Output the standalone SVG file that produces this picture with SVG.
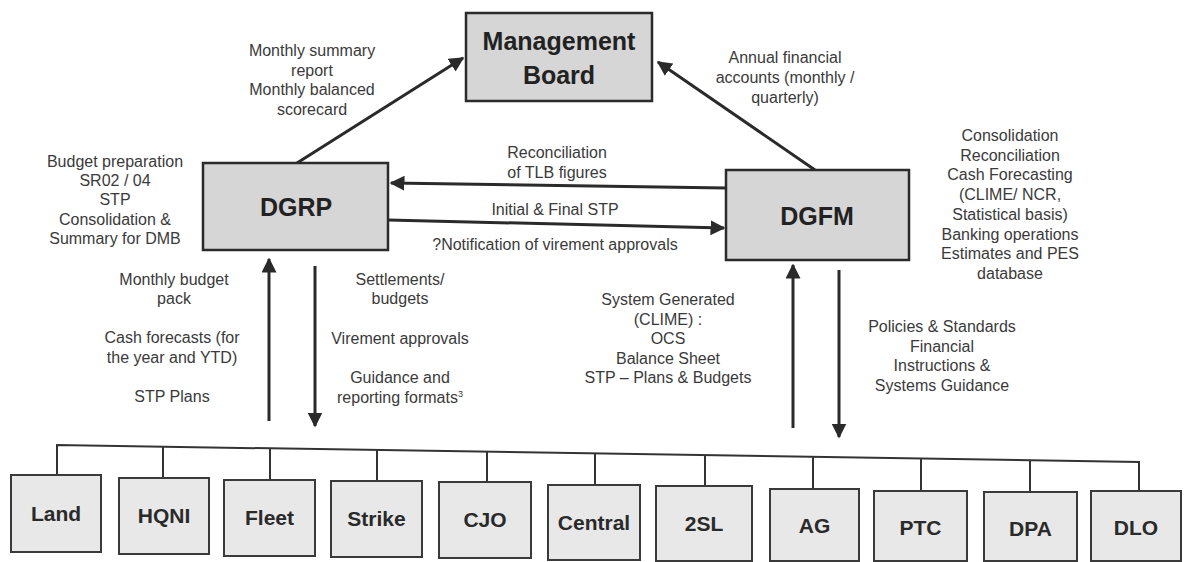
<svg xmlns="http://www.w3.org/2000/svg" width="1187" height="562" viewBox="0 0 1187 562">
<style>
.big{fill:#d6d6d6;stroke:#2b2b2b;stroke-width:2.5}
.small{fill:#e8e8e8;stroke:#3a3a3a;stroke-width:2}
.bt{font-family:"Liberation Sans",Arial,sans-serif;font-weight:bold;font-size:25px;fill:#222;text-anchor:middle}
.st{font-family:"Liberation Sans",Arial,sans-serif;font-weight:bold;font-size:21px;fill:#2a2a2a;text-anchor:middle}
.lb{font-family:"Liberation Sans",Arial,sans-serif;font-size:16px;fill:#3a3a3a;text-anchor:middle}
.ln{stroke:#2a2a2a;stroke-width:3;fill:none}
.bus{stroke:#333;stroke-width:2;fill:none}
</style>
<defs>
<marker id="ah" viewBox="0 0 10 10" refX="9" refY="5" markerWidth="5" markerHeight="5" orient="auto" markerUnits="strokeWidth">
<path d="M0,0 L10,5 L0,10 z" fill="#2a2a2a"/>
</marker>
</defs>

<g id="connectors">
<line class="ln" x1="297" y1="163" x2="463" y2="58" marker-end="url(#ah)"/>
<line class="ln" x1="815" y1="170" x2="658" y2="62" marker-end="url(#ah)"/>
<line class="ln" x1="726" y1="188" x2="391" y2="183" marker-end="url(#ah)"/>
<line class="ln" x1="388" y1="220" x2="724" y2="228" marker-end="url(#ah)"/>
<line class="ln" x1="269" y1="421" x2="269" y2="259" marker-end="url(#ah)"/>
<line class="ln" x1="315" y1="266" x2="315" y2="426" marker-end="url(#ah)"/>
<line class="ln" x1="793" y1="428" x2="793" y2="265" marker-end="url(#ah)"/>
<line class="ln" x1="839" y1="270" x2="839" y2="437" marker-end="url(#ah)"/>
<path class="bus" d="M57,475 V445 L1139,462 V491"/>
<path class="bus" d="M163,446.7 V478 M270,448.3 V480 M377,450 V481 M487,451.8 V482 M595,453.5 V485 M705,455.2 V486 M813,456.9 V489 M921,458.6 V491 M1030,460.3 V492"/>
</g>

<g id="labels">
<text class="lb" x="312" y="56">Monthly summary</text>
<text class="lb" x="312" y="75.5">report</text>
<text class="lb" x="312" y="95">Monthly balanced</text>
<text class="lb" x="312" y="114.5">scorecard</text>

<text class="lb" x="785" y="63">Annual financial</text>
<text class="lb" x="785" y="83">accounts (monthly /</text>
<text class="lb" x="785" y="103">quarterly)</text>

<text class="lb" x="115" y="167">Budget preparation</text>
<text class="lb" x="115" y="186">SR02 / 04</text>
<text class="lb" x="115" y="205">STP</text>
<text class="lb" x="115" y="225">Consolidation &amp;</text>
<text class="lb" x="115" y="244">Summary for DMB</text>

<text class="lb" x="557" y="158">Reconciliation</text>
<text class="lb" x="557" y="178">of TLB figures</text>
<text class="lb" x="555" y="215">Initial &amp; Final STP</text>
<text class="lb" x="555" y="250">?Notification of virement approvals</text>

<text class="lb" x="1010" y="141">Consolidation</text>
<text class="lb" x="1010" y="161">Reconciliation</text>
<text class="lb" x="1010" y="180">Cash Forecasting</text>
<text class="lb" x="1010" y="200">(CLIME/ NCR,</text>
<text class="lb" x="1010" y="220">Statistical basis)</text>
<text class="lb" x="1010" y="240">Banking operations</text>
<text class="lb" x="1010" y="259">Estimates and PES</text>
<text class="lb" x="1010" y="279">database</text>

<text class="lb" x="174" y="285">Monthly budget</text>
<text class="lb" x="174" y="304">pack</text>
<text class="lb" x="172" y="343">Cash forecasts (for</text>
<text class="lb" x="172" y="363">the year and YTD)</text>
<text class="lb" x="172" y="402">STP Plans</text>

<text class="lb" x="400" y="285">Settlements/</text>
<text class="lb" x="400" y="304">budgets</text>
<text class="lb" x="400" y="344">Virement approvals</text>
<text class="lb" x="400" y="383">Guidance and</text>
<text class="lb" x="400" y="403">reporting formats<tspan font-size="9" dy="-6">3</tspan></text>

<text class="lb" x="668" y="305">System Generated</text>
<text class="lb" x="668" y="324.5">(CLIME) :</text>
<text class="lb" x="668" y="344">OCS</text>
<text class="lb" x="668" y="363.5">Balance Sheet</text>
<text class="lb" x="668" y="383">STP – Plans &amp; Budgets</text>

<text class="lb" x="942" y="332">Policies &amp; Standards</text>
<text class="lb" x="942" y="352">Financial</text>
<text class="lb" x="942" y="371">Instructions &amp;</text>
<text class="lb" x="942" y="391">Systems Guidance</text>
</g>

<g id="mb"><rect class="big" x="466" y="13" width="186" height="88"/>
<text class="bt" x="559" y="50">Management</text><text class="bt" x="559" y="84">Board</text></g>
<g id="dgrp"><rect class="big" x="203" y="163" width="185" height="87"/>
<text class="bt" x="296" y="216">DGRP</text></g>
<g id="dgfm"><rect class="big" x="726" y="170" width="183" height="90"/>
<text class="bt" x="817" y="225">DGFM</text></g>

<g id="land"><rect class="small" x="11" y="475" width="90" height="77"/><text class="st" x="56" y="521">Land</text></g>
<g id="hqni"><rect class="small" x="119" y="478" width="90" height="76"/><text class="st" x="164" y="523">HQNI</text></g>
<g id="fleet"><rect class="small" x="224" y="480" width="91" height="76"/><text class="st" x="269.5" y="525">Fleet</text></g>
<g id="strike"><rect class="small" x="331" y="481" width="91" height="76"/><text class="st" x="376.5" y="526">Strike</text></g>
<g id="cjo"><rect class="small" x="439" y="482" width="92" height="76"/><text class="st" x="485" y="527">CJO</text></g>
<g id="central"><rect class="small" x="548" y="485" width="92" height="75"/><text class="st" x="594" y="530">Central</text></g>
<g id="2sl"><rect class="small" x="656" y="486" width="96" height="75"/><text class="st" x="704" y="531">2SL</text></g>
<g id="ag"><rect class="small" x="770" y="489" width="89" height="72"/><text class="st" x="814.5" y="533">AG</text></g>
<g id="ptc"><rect class="small" x="874" y="491" width="93" height="70"/><text class="st" x="920.5" y="535">PTC</text></g>
<g id="dpa"><rect class="small" x="984" y="492" width="93" height="69"/><text class="st" x="1030.5" y="536">DPA</text></g>
<g id="dlo"><rect class="small" x="1091" y="491" width="90" height="70"/><text class="st" x="1136" y="535">DLO</text></g>
</svg>
